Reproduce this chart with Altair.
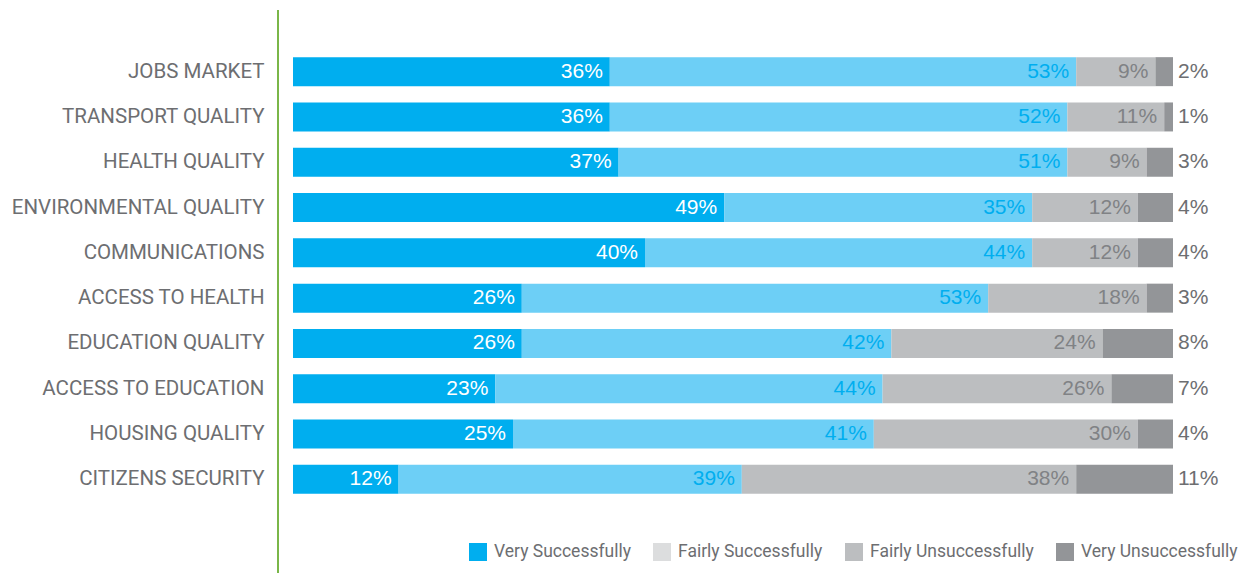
import altair as alt
import pandas as pd

categories = ["JOBS MARKET", "TRANSPORT QUALITY", "HEALTH QUALITY", "ENVIRONMENTAL QUALITY",
              "COMMUNICATIONS", "ACCESS TO HEALTH", "EDUCATION QUALITY", "ACCESS TO EDUCATION",
              "HOUSING QUALITY", "CITIZENS SECURITY"]
series = ["Very Successfully", "Fairly Successfully", "Fairly Unsuccessfully", "Very Unsuccessfully"]
very_successfully = [36, 36, 37, 49, 40, 26, 26, 23, 25, 12]
fairly_successfully = [53, 52, 51, 35, 44, 53, 42, 44, 41, 39]
fairly_unsuccessfully = [9, 11, 9, 12, 12, 18, 24, 26, 30, 38]
very_unsuccessfully = [2, 1, 3, 4, 4, 3, 8, 7, 4, 11]

bar_colors = ["#00aeef", "#6dcff6", "#bcbec0", "#939598"]
legend_colors = ["#00aeef", "#dcddde", "#bcbec0", "#939598"]
text_colors = ["#ffffff", "#00aeef", "#808285", "#6d6e71"]

values = [very_successfully, fairly_successfully, fairly_unsuccessfully, very_unsuccessfully]
rows = []
for i, c in enumerate(categories):
    start = 0
    for j, s in enumerate(series):
        v = values[j][i]
        rows.append({"category": c, "series": s, "idx": j, "value": v,
                     "start": start, "end": start + v, "label": f"{v}%"})
        start += v
df = pd.DataFrame(rows)

FONT = "Liberation Sans"
NARROW = "Roboto"

y_enc = alt.Y("category:N", sort=categories, title=None,
              scale=alt.Scale(paddingInner=0.36, paddingOuter=0.18),
              axis=alt.Axis(domain=False, ticks=False, labelPadding=29, labelFontSize=20.5,
                            labelFont=NARROW, labelColor="#6d6e71", labelLimit=400))
x_scale = alt.Scale(domain=[0, 100], nice=False, zero=True)

base = alt.Chart(df)

bars = base.mark_bar().encode(
    y=y_enc,
    x=alt.X("start:Q", scale=x_scale, axis=None),
    x2="end:Q",
    color=alt.Color("series:N", scale=alt.Scale(domain=series, range=bar_colors), legend=None),
)

legend_layer = base.mark_bar().encode(
    y=alt.Y("category:N", sort=categories),
    x=alt.value(0), x2=alt.value(0),
    color=alt.Color("series:N", scale=alt.Scale(domain=series, range=legend_colors),
                    legend=alt.Legend(title=None, orient="none", legendX=176, legendY=494,
                                      direction="horizontal", columns=4, symbolType="square",
                                      symbolSize=324, symbolOpacity=1, symbolStrokeWidth=0,
                                      labelFont=NARROW, labelFontSize=17.5, labelColor="#6d6e71",
                                      labelOffset=7, columnPadding=22, labelLimit=300)),
)

layers = [bars, legend_layer]
for j in range(3):
    layers.append(
        base.transform_filter(alt.datum.idx == j).mark_text(
            align="right", baseline="middle", dx=-7, font=FONT, fontSize=21,
            color=text_colors[j]
        ).encode(y=alt.Y("category:N", sort=categories), x=alt.X("end:Q", scale=x_scale), text="label:N")
    )
layers.append(
    base.transform_filter(alt.datum.idx == 3).mark_text(
        align="left", baseline="middle", dx=5, font=FONT, fontSize=21, color=text_colors[3]
    ).encode(y=alt.Y("category:N", sort=categories), x=alt.X("end:Q", scale=x_scale), text="label:N")
)

green = alt.Chart(pd.DataFrame({"a": [0]})).mark_rule(color="#7ab648", strokeWidth=2).encode(
    x=alt.value(-15), y=alt.value(-39), y2=alt.value(540))

chart = alt.layer(*layers, green).resolve_scale(color="independent").properties(
    width=880, height=453,
    autosize=alt.AutoSizeParams(type="none"),
    padding={"left": 285, "top": 41, "right": 73, "bottom": 71},
).configure_view(stroke=None)

chart.save("out.html", embed_options={"renderer": "svg", "actions": False})
